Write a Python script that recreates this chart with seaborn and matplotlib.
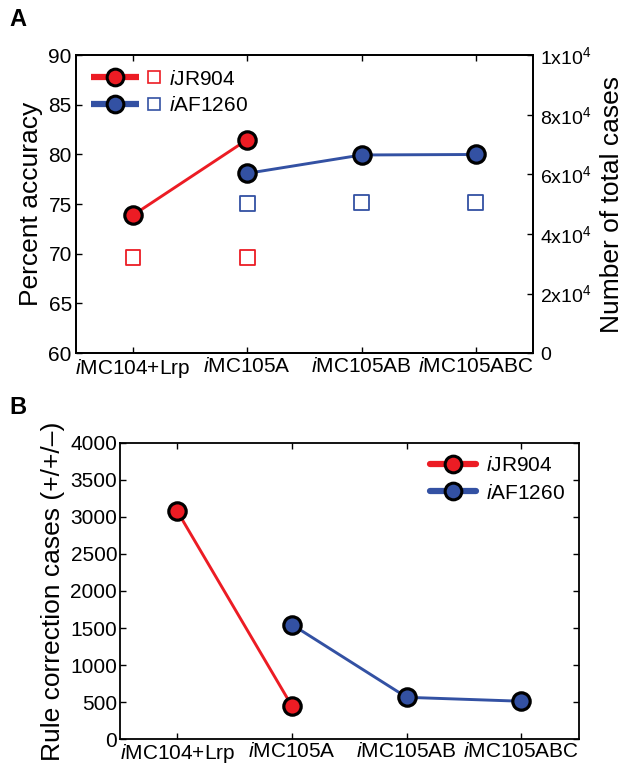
import matplotlib
matplotlib.use("Agg")
import matplotlib.pyplot as plt
import seaborn as sns
import pandas as pd
from matplotlib.lines import Line2D
from matplotlib.legend_handler import HandlerBase

# ---------------- data ----------------
categories = ["iMC104+Lrp", "iMC105A", "iMC105AB", "iMC105ABC"]
cat_labels = [r"$\mathit{i}$MC104+Lrp", r"$\mathit{i}$MC105A",
              r"$\mathit{i}$MC105AB", r"$\mathit{i}$MC105ABC"]

jr_cats = ["iMC104+Lrp", "iMC105A"]
af_cats = ["iMC105A", "iMC105AB", "iMC105ABC"]

jr_accuracy = [73.9, 81.5]
af_accuracy = [78.1, 79.95, 80.0]

jr_total_cases = [32000, 32000]
af_total_cases = [50300, 50500, 50500]

jr_corrections = [3075, 445]
af_corrections = [1545, 565, 512]

acc_ticks = [60, 65, 70, 75, 80, 85, 90]
total_ticks = [0, 20000, 40000, 60000, 80000, 100000]
total_ticklabels = ["0", r"2x10$^4$", r"4x10$^4$", r"6x10$^4$", r"8x10$^4$", r"1x10$^4$"]
corr_ticks = [0, 500, 1000, 1500, 2000, 2500, 3000, 3500, 4000]

RED = "#EC1C24"
BLUE = "#3351A3"

# ---------------- style ----------------
sns.set_theme(style="ticks")
plt.rcParams["font.family"] = ["Liberation Sans", "DejaVu Sans"]
plt.rcParams["mathtext.fontset"] = "custom"
plt.rcParams["mathtext.rm"] = "Liberation Sans"
plt.rcParams["mathtext.it"] = "Liberation Sans:italic"
plt.rcParams["axes.edgecolor"] = "black"
plt.rcParams["axes.linewidth"] = 1.3
for k in ["text.color", "axes.labelcolor", "xtick.color", "ytick.color"]:
    plt.rcParams[k] = "black"

pos = {c: i + 1 for i, c in enumerate(categories)}

def frame(cats, y, col):
    return pd.DataFrame({"x": [pos[c] for c in cats], "y": y, "name": col})


class LineSquareHandler(HandlerBase):
    """Legend key: thick line with circle marker, followed by a hollow square."""
    def __init__(self, color, **kw):
        super().__init__(**kw)
        self.color = color

    def create_artists(self, legend, orig_handle, xdescent, ydescent,
                       width, height, fontsize, trans):
        y = height / 2 - ydescent
        x0 = -xdescent
        lw_end = x0 + width * 0.68
        line = Line2D([x0, lw_end], [y, y], color=self.color, lw=4.5,
                      solid_capstyle="butt")
        circ = Line2D([(x0 + lw_end) / 2], [y], ls="none", marker="o",
                      markersize=12, markerfacecolor=self.color,
                      markeredgecolor="black", markeredgewidth=2.2)
        sq = Line2D([x0 + width * 0.9], [y], ls="none", marker="s",
                    markersize=9, markerfacecolor="none",
                    markeredgecolor=self.color, markeredgewidth=1.2)
        for a in (line, circ, sq):
            a.set_transform(trans)
        return [line, circ, sq]


fig = plt.figure(figsize=(6.25, 7.66), dpi=100)
axA = fig.add_axes([0.1216, 0.539, 0.731, 0.389])
axB = fig.add_axes([0.192, 0.035, 0.734, 0.387])

line_kw = dict(marker="o", markersize=12.5, markeredgecolor="black",
               markeredgewidth=2.3, linewidth=2.1)

# ---------------- panel A ----------------
dfA_jr = frame(jr_cats, jr_accuracy, "iJR904")
dfA_af = frame(af_cats, af_accuracy, "iAF1260")
sns.lineplot(data=dfA_jr, x="x", y="y", ax=axA, color=RED,
             markerfacecolor=RED, zorder=4, **line_kw)
sns.lineplot(data=dfA_af, x="x", y="y", ax=axA, color=BLUE,
             markerfacecolor=BLUE, zorder=4, **line_kw)
axA.set_xlim(0.5, 4.5)
axA.set_ylim(60, 90)
axA.set_yticks(acc_ticks)
axA.set_xticks(range(1, 5))
axA.set_xticklabels(cat_labels)
axA.set_xlabel("")
axA.set_ylabel("Percent accuracy", fontsize=19, labelpad=4)
axA.tick_params(axis="both", direction="in", labelsize=15, length=4, width=1,
                top=True, right=False, pad=3)

axA2 = axA.twinx()
dfT_jr = frame(jr_cats, jr_total_cases, "iJR904")
dfT_af = frame(af_cats, af_total_cases, "iAF1260")
sns.scatterplot(data=dfT_jr, x="x", y="y", ax=axA2, marker="s", s=110,
                facecolor="none", edgecolor=RED, linewidth=1.3)
sns.scatterplot(data=dfT_af, x="x", y="y", ax=axA2, marker="s", s=110,
                facecolor="none", edgecolor=BLUE, linewidth=1.3)
axA2.set_ylim(0, 100000)
axA2.set_yticks(total_ticks)
axA2.set_yticklabels(total_ticklabels)
axA2.set_xlim(0.5, 4.5)
axA2.set_xlabel("")
axA2.set_ylabel("Number of total cases", fontsize=19, labelpad=6)
axA2.tick_params(axis="y", direction="in", labelsize=14, length=4, width=1, pad=5)

hA_jr = Line2D([], [], color=RED)
hA_af = Line2D([], [], color=BLUE)
axA.legend([hA_jr, hA_af], [r"$\mathit{i}$JR904", r"$\mathit{i}$AF1260"],
           handler_map={hA_jr: LineSquareHandler(RED),
                        hA_af: LineSquareHandler(BLUE)},
           loc="upper left", frameon=False, fontsize=15, handlelength=3.4,
           handletextpad=0.35, labelspacing=0.35, borderaxespad=0.3)

# ---------------- panel B ----------------
dfB_jr = frame(jr_cats, jr_corrections, "iJR904")
dfB_af = frame(af_cats, af_corrections, "iAF1260")
sns.lineplot(data=dfB_jr, x="x", y="y", ax=axB, color=RED,
             markerfacecolor=RED, zorder=4, **line_kw)
sns.lineplot(data=dfB_af, x="x", y="y", ax=axB, color=BLUE,
             markerfacecolor=BLUE, zorder=4, **line_kw)
axB.set_xlim(0.5, 4.5)
axB.set_ylim(0, 4000)
axB.set_yticks(corr_ticks)
axB.set_xticks(range(1, 5))
axB.set_xticklabels(cat_labels)
axB.set_xlabel("")
axB.set_ylabel("Rule correction cases (+/+/\u2013)", fontsize=19, labelpad=4)
axB.tick_params(axis="both", direction="in", labelsize=15, length=4, width=1,
                top=True, right=True, pad=2)

hB = [Line2D([], [], color=RED, lw=4.5, marker="o", markersize=12,
             markerfacecolor=RED, markeredgecolor="black", markeredgewidth=2.2),
      Line2D([], [], color=BLUE, lw=4.5, marker="o", markersize=12,
             markerfacecolor=BLUE, markeredgecolor="black", markeredgewidth=2.2)]
axB.legend(hB, [r"$\mathit{i}$JR904", r"$\mathit{i}$AF1260"],
           loc="upper right", frameon=False, fontsize=15, handlelength=2.2,
           handletextpad=0.5, labelspacing=0.4, borderaxespad=0.25)

fig.text(0.015, 0.975, "A", fontsize=17, fontweight="bold", va="center")
fig.text(0.015, 0.468, "B", fontsize=17, fontweight="bold", va="center")

fig.savefig("out.png", dpi=100)
